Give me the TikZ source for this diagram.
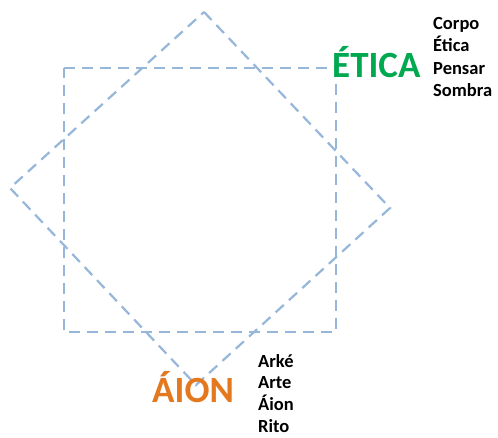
\documentclass[tikz,border=0pt]{standalone}
\usepackage{fontspec}
\setmainfont{Carlito}
\definecolor{dashblue}{RGB}{150,182,218}
\definecolor{eticagreen}{RGB}{0,168,80}
\definecolor{aionorange}{RGB}{228,120,30}
\begin{document}
\begin{tikzpicture}[x=1pt,y=-1pt,
  dashline/.style={draw=dashblue,line width=2.2pt,dash pattern=on 11pt off 7pt},
  bigword/.style={anchor=base west,inner sep=0pt,font=\fontsize{37}{37}\selectfont\bfseries},
  listword/.style={anchor=base west,inner sep=0pt,font=\fontsize{18.5}{18.5}\selectfont\bfseries,text=black}]
\useasboundingbox (0,0) rectangle (498,437);
% square
\coordinate (s1) at (64,68);
\coordinate (s2) at (336,68);
\coordinate (s3) at (336,332);
\coordinate (s4) at (64,332);
\draw[dashline] (s1) -- (s2) -- (s3) -- (s4) -- cycle;
% rotated square
\coordinate (r1) at (204,12);
\coordinate (r2) at (390,208);
\coordinate (r3) at (196,385);
\coordinate (r4) at (10,188);
\draw[dashline] (r1) -- (r2) -- (r3) -- (r4) -- cycle;
% labels
\node[bigword,text=eticagreen] (etica) at (332,77) {ÉTICA};
\node[bigword,text=aionorange] (aion) at (152,402) {ÁION};
\node[listword] (corpo) at (433,29) {Corpo};
\node[listword] (eticaw) at (433,51) {Ética};
\node[listword] (pensar) at (433,74) {Pensar};
\node[listword] (sombra) at (433,96) {Sombra};
\node[listword] (arke) at (258,367) {Arké};
\node[listword] (arte) at (258,388) {Arte};
\node[listword] (aionw) at (258,410) {Áion};
\node[listword] (rito) at (258,432) {Rito};
\end{tikzpicture}
\end{document}
